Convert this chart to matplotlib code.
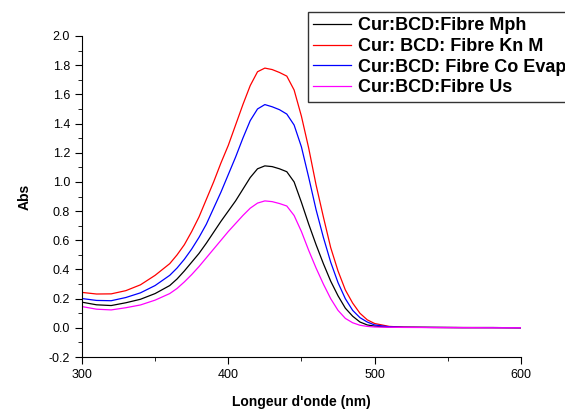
import numpy as np
import matplotlib
matplotlib.use("Agg")
from matplotlib import pyplot as plt
from matplotlib.ticker import MultipleLocator

plt.rcParams['font.family'] = ['Liberation Sans', 'DejaVu Sans']

# wavelength grid (nm)
wl = [300, 310, 320, 330, 340, 350, 360, 365, 370, 375, 380, 385, 390, 395,
      400, 405, 410, 415, 420, 425, 430, 435, 440, 445, 450, 455, 460, 465,
      470, 475, 480, 485, 490, 495, 500, 510, 520, 540, 560, 580, 600]

mph = [0.176, 0.158, 0.153, 0.172, 0.196, 0.235, 0.29, 0.335, 0.39, 0.45,
       0.51, 0.58, 0.655, 0.73, 0.80, 0.87, 0.95, 1.03, 1.09, 1.11, 1.105,
       1.09, 1.07, 1.0, 0.86, 0.71, 0.57, 0.44, 0.32, 0.22, 0.135, 0.08,
       0.04, 0.02, 0.012, 0.005, 0.004, 0.003, 0.002, 0.002, 0.001]
knm = [0.243, 0.232, 0.233, 0.255, 0.295, 0.36, 0.44, 0.50, 0.57, 0.66,
       0.76, 0.88, 1.0, 1.13, 1.25, 1.39, 1.53, 1.66, 1.755, 1.78, 1.77,
       1.75, 1.725, 1.63, 1.45, 1.23, 0.98, 0.76, 0.55, 0.39, 0.26, 0.17,
       0.10, 0.055, 0.03, 0.01, 0.005, 0.003, 0.002, 0.002, 0.001]
coevap = [0.201, 0.188, 0.186, 0.208, 0.24, 0.29, 0.36, 0.41, 0.47, 0.54,
          0.62, 0.71, 0.82, 0.93, 1.05, 1.17, 1.30, 1.42, 1.50, 1.53, 1.515,
          1.495, 1.465, 1.39, 1.24, 1.03, 0.81, 0.62, 0.45, 0.31, 0.20,
          0.12, 0.07, 0.04, 0.02, 0.007, 0.004, 0.003, 0.002, 0.002, 0.001]
us = [0.146, 0.128, 0.123, 0.138, 0.157, 0.19, 0.235, 0.27, 0.315, 0.365,
      0.42, 0.48, 0.54, 0.60, 0.66, 0.715, 0.77, 0.82, 0.855, 0.87, 0.865,
      0.852, 0.835, 0.77, 0.66, 0.53, 0.41, 0.30, 0.20, 0.12, 0.065, 0.035,
      0.018, 0.01, 0.006, 0.004, 0.003, 0.002, 0.002, 0.001, 0.001]

labels = ["Cur:BCD:Fibre Mph", "Cur: BCD: Fibre Kn M",
          "Cur:BCD: Fibre Co Evap", "Cur:BCD:Fibre Us"]
colors = ["black", "red", "blue", "magenta"]

fig = plt.figure(figsize=(5.65, 4.09), dpi=100)
ax = fig.add_axes([0.145, 0.127, 0.777, 0.785])

for ys, lab, c in zip([mph, knm, coevap, us], labels, colors):
  ax.plot(wl, ys, color=c, lw=0.9, label=lab)

ax.set_xlim(300, 600)
ax.xaxis.set_major_locator(MultipleLocator(100))
ax.xaxis.set_minor_locator(MultipleLocator(50))
ax.yaxis.set_major_locator(MultipleLocator(0.2))
ax.yaxis.set_minor_locator(MultipleLocator(0.1))
ax.yaxis.set_major_formatter(lambda v, pos: f"{v:.1f}")
ax.set_ylim(-0.2, 2.0)
ax.tick_params(which='both', direction='out', labelsize=9)
ax.tick_params(which='major', length=5)
ax.tick_params(which='minor', length=3)
ax.spines['top'].set_visible(False)
ax.spines['right'].set_visible(False)

ax.set_xlabel("Longeur d'onde (nm)", fontsize=10, fontweight='bold', labelpad=10)
ax.set_ylabel("Abs", fontsize=10, fontweight='bold', labelpad=12)

# legend box runs off the right edge like in the original
leg = fig.legend(loc='upper left', bbox_to_anchor=(308 / 565, 1 - 12 / 409),
                 prop={'weight': 'bold', 'size': 13}, frameon=True,
                 fancybox=False, handlelength=2.1, labelspacing=0.2,
                 borderaxespad=0, handletextpad=0.35, borderpad=0.3)
leg.get_frame().set_edgecolor('black')
leg.get_frame().set_linewidth(1.0)

fig.savefig("out.png", dpi=100)
